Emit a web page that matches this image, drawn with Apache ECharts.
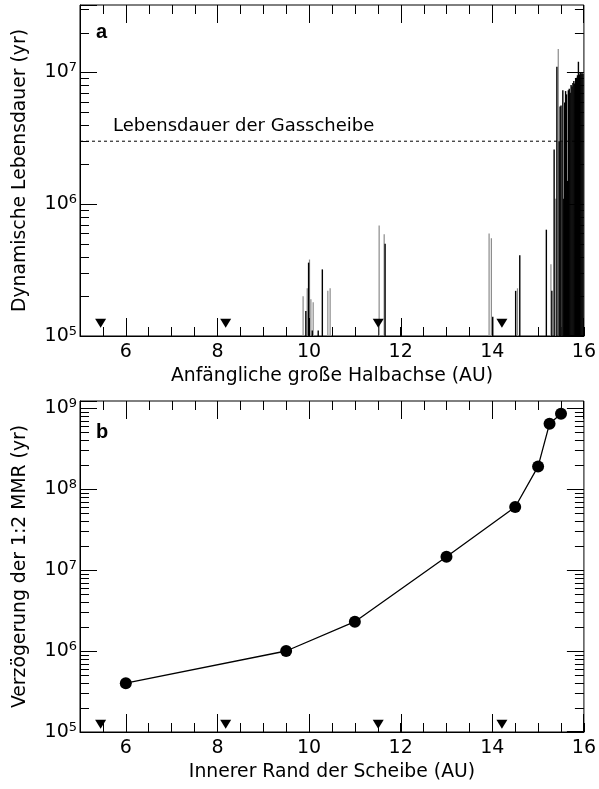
<!DOCTYPE html>
<html>
<head>
<meta charset="utf-8">
<script src="https://cdn.jsdelivr.net/npm/echarts@6/dist/echarts.min.js"></script>
<style>
  html, body { margin: 0; padding: 0; background: #fff; }
  #chart { width: 599px; height: 789px; }
</style>
</head>
<body>
<div id="chart"></div>
<script>
// ---- Panel a: dynamical lifetime vs. initial semimajor axis (AU, yr) ----
const aBlackPos = [9.93, 9.99, 10.07, 10.20, 10.29, 11.66, 14.01, 14.51, 14.60, 15.18, 15.30,
  15.35, 15.41, 15.46, 15.48, 15.50, 15.54, 15.56, 15.58, 15.60, 15.62, 15.64, 15.66, 15.68,
  15.70, 15.72, 15.74, 15.76, 15.78, 15.80, 15.82, 15.84, 15.86, 15.88, 15.90, 15.92, 15.94,
  15.96, 15.98];
const aBlackLife = [1.55e5, 3.6e5, 1.1e5, 1.1e5, 3.2e5, 5.0e5, 1.4e5, 2.2e5, 4.1e5, 6.4e5, 2.2e5,
  2.6e6, 1.1e7, 3.0e6, 5.5e6, 5.6e6, 7.3e6, 1.1e6, 5.9e6, 7.2e6, 6.8e6, 1.5e6, 7.3e6, 7.5e6,
  7.0e6, 8.0e6, 7.8e6, 8.3e6, 8.6e6, 8.2e6, 8.9e6, 9.1e6, 9.5e6, 1.2e7, 9.6e6, 1.0e7, 9.8e6,
  1.0e7, 9.7e6];
const aGrayPos = [9.87, 9.96, 10.01, 10.04, 10.09, 10.41, 10.46, 11.53, 11.64, 13.93, 13.98,
  14.55, 15.28, 15.37, 15.39, 15.44, 15.52];
const aGrayLife = [2.0e5, 2.3e5, 3.8e5, 1.9e5, 1.8e5, 2.2e5, 2.3e5, 6.9e5, 5.9e5, 6.0e5, 5.5e5,
  2.3e5, 3.5e5, 1.1e6, 1.1e6, 1.5e7, 3.0e6];
const gasDiskLifetime = 3e6;

// Resonance locations marked with downward triangles in both panels
const resonancePos = [5.45, 8.18, 11.51, 14.21];
const resonanceLevel = 1.25e5;

// ---- Panel b: delay of the 1:2 MMR vs. inner disk edge ----
const innerEdge = [6, 9.5, 11, 13, 14.5, 15, 15.25, 15.5];
const mmrDelay = [4.0e5, 1.0e6, 2.3e6, 1.46e7, 6.0e7, 1.9e8, 6.4e8, 8.5e8];

// Axis ticks
const xMajorTicks = [6, 8, 10, 12, 14, 16];
const xMinorTicks = [5.5, 6.5, 7, 7.5, 8.5, 9, 9.5, 10.5, 11, 11.5, 12.5, 13, 13.5, 14.5, 15, 15.5];
const aDecades = [5, 6, 7];
const bDecades = [5, 6, 7, 8, 9];
const aLogMax = 7.51;
const bLogMax = 9.086;
const X_MIN = 5, X_MAX = 16, LOG_MIN = 5;

const FONT = 'DejaVu Sans';
const lg = v => Math.log10(v);

function minorLogTicks(lo, hi) {
  const out = [];
  for (let n = Math.floor(lo); n <= Math.ceil(hi); n++) {
    for (let k = 2; k <= 9; k++) {
      const v = n + Math.log10(k);
      if (v > lo && v < hi) out.push(v);
    }
  }
  return out;
}

const nameStyle = { color: '#000', fontFamily: FONT, fontSize: 18.8 };
const black = { color: '#000', width: 1 };

// x axis: built-in inward ticks every 0.5 AU, labels on even values
function xAxisFor(grid, name) {
  return {
    type: 'value', gridIndex: grid, min: X_MIN, max: X_MAX, interval: 0.5, position: 'bottom',
    name: name, nameLocation: 'middle', nameGap: 31, nameTextStyle: nameStyle,
    splitLine: { show: false },
    axisLine: { show: true, onZero: false, lineStyle: black },
    axisTick: { show: true, inside: true, length: 9, lineStyle: black },
    axisLabel: { show: true, margin: 7, customValues: xMajorTicks,
                 color: '#000', fontFamily: FONT, fontSize: 19 }
  };
}

// y axis in log10 units: built-in inward ticks at each decade
function yAxisFor(grid, name, decades, max) {
  return {
    type: 'value', gridIndex: grid, min: LOG_MIN, max: max, interval: 1, position: 'left',
    name: name, nameLocation: 'middle', nameGap: 50, nameRotate: 90, nameTextStyle: nameStyle,
    splitLine: { show: false },
    axisLine: { show: true, onZero: false, lineStyle: black },
    axisTick: { show: true, inside: true, length: 17, lineStyle: black },
    axisLabel: {
      show: true, margin: 3, customValues: decades,
      formatter: v => '{b|10}{s|' + Math.round(v) + '}',
      rich: {
        b: { color: '#000', fontFamily: FONT, fontSize: 19 },
        s: { color: '#000', fontFamily: FONT, fontSize: 13, padding: [0, 0, 9, 0] }
      }
    }
  };
}

// Thin vertical bars rising from the 10^5 baseline
function barRenderer(color, w) {
  return function (params, api) {
    const top = api.coord([api.value(0), api.value(1)]);
    const base = api.coord([api.value(0), LOG_MIN]);
    return {
      type: 'rect',
      shape: { x: top[0] - w / 2, y: top[1], width: w, height: base[1] - top[1] },
      style: { fill: color }
    };
  };
}

// Tick strips on one panel edge; each item sits on that edge in data units
function edgeTickSeries(idx, edge, values, len, yMax) {
  let data;
  if (edge === 'bottom') data = values.map(v => [v, LOG_MIN]);
  else if (edge === 'top') data = values.map(v => [v, yMax]);
  else if (edge === 'left') data = values.map(v => [X_MIN, v]);
  else data = values.map(v => [X_MAX, v]);
  return {
    type: 'custom', xAxisIndex: idx, yAxisIndex: idx, z: 4, clip: true, data: data,
    renderItem: function (params, api) {
      const p = api.coord([api.value(0), api.value(1)]);
      const rightPx = api.coord([X_MAX, LOG_MIN])[0];
      const bottomPx = api.coord([X_MIN, LOG_MIN])[1];
      let shape;
      if (edge === 'bottom' || edge === 'top') {
        const x = Math.min(Math.round(p[0]), Math.round(rightPx) - 1);
        shape = edge === 'bottom'
          ? { x: x, y: p[1] - len, width: 1, height: len }
          : { x: x, y: p[1], width: 1, height: len };
      } else {
        const y = Math.min(Math.round(p[1]), Math.round(bottomPx) - 1);
        shape = edge === 'left'
          ? { x: p[0], y: y, width: len, height: 1 }
          : { x: p[0] - len, y: y, width: len, height: 1 };
      }
      return { type: 'rect', shape: shape, style: { fill: '#000' } };
    }
  };
}

function panelTicks(idx, yMax, decades) {
  const minors = minorLogTicks(LOG_MIN, yMax);
  return [
    edgeTickSeries(idx, 'bottom', xMajorTicks, 18, yMax),
    edgeTickSeries(idx, 'top', xMajorTicks, 18, yMax),
    edgeTickSeries(idx, 'top', xMinorTicks, 9, yMax),
    edgeTickSeries(idx, 'right', decades, 17, yMax),
    edgeTickSeries(idx, 'left', minors, 9, yMax),
    edgeTickSeries(idx, 'right', minors, 9, yMax)
  ];
}

const blackBars = aBlackPos.map((x, i) => [x, lg(aBlackLife[i])]);
const grayBars = aGrayPos.map((x, i) => [x, lg(aGrayLife[i])]);
const triMarks = resonancePos.map(x => [x, lg(resonanceLevel)]);
const curveB = innerEdge.map((x, i) => [x, lg(mmrDelay[i])]);

const chart = echarts.init(document.getElementById('chart'), null, { renderer: 'canvas' });

chart.setOption({
  animation: false,
  backgroundColor: '#fff',
  grid: [
    { left: 80, right: 13, top: 5, height: 331, show: true, borderColor: '#000', borderWidth: 1, backgroundColor: 'transparent' },
    { left: 80, right: 13, top: 401, height: 331, show: true, borderColor: '#000', borderWidth: 1, backgroundColor: 'transparent' }
  ],
  xAxis: [xAxisFor(0, 'Anfängliche große Halbachse (AU)'), xAxisFor(1, 'Innerer Rand der Scheibe (AU)')],
  yAxis: [yAxisFor(0, 'Dynamische Lebensdauer (yr)', aDecades, aLogMax),
          yAxisFor(1, 'Verzögerung der 1:2 MMR (yr)', bDecades, bLogMax)],
  series: [
    {
      type: 'line', xAxisIndex: 0, yAxisIndex: 0, z: 1,
      data: [[X_MIN, lg(gasDiskLifetime)], [X_MAX, lg(gasDiskLifetime)]],
      symbol: 'none', silent: true,
      lineStyle: { color: '#000', width: 1, type: [3, 3] }
    },
    {
      type: 'custom', xAxisIndex: 0, yAxisIndex: 0, z: 3, clip: true,
      renderItem: barRenderer('#8a8a8a', 1.2), data: grayBars
    },
    {
      type: 'custom', xAxisIndex: 0, yAxisIndex: 0, z: 4, clip: true,
      renderItem: barRenderer('#000', 1.4), data: blackBars
    },
    {
      type: 'scatter', xAxisIndex: 0, yAxisIndex: 0, z: 5,
      symbol: 'triangle', symbolRotate: 180, symbolSize: [11, 9],
      itemStyle: { color: '#000', opacity: 1 }, data: triMarks
    },
    {
      type: 'line', xAxisIndex: 1, yAxisIndex: 1, z: 4,
      data: curveB, symbol: 'circle', symbolSize: 12, showSymbol: true,
      lineStyle: { color: '#000', width: 1.3 },
      itemStyle: { color: '#000', borderWidth: 0 }
    },
    {
      type: 'scatter', xAxisIndex: 1, yAxisIndex: 1, z: 5,
      symbol: 'triangle', symbolRotate: 180, symbolSize: [11, 9],
      itemStyle: { color: '#000', opacity: 1 }, data: triMarks
    }
  ].concat(panelTicks(0, aLogMax, aDecades), panelTicks(1, bLogMax, bDecades))
});

// Panel letters and the gas-disk lifetime caption
const capPos = chart.convertToPixel({ xAxisIndex: 0, yAxisIndex: 0 }, [5.72, lg(gasDiskLifetime)]);
chart.setOption({
  graphic: [
    { type: 'text', left: 96, top: 22, style: { text: 'a', fill: '#000', font: 'bold 20px "Liberation Sans"' } },
    { type: 'text', left: 96, top: 422, style: { text: 'b', fill: '#000', font: 'bold 20px "Liberation Sans"' } },
    { type: 'text', x: capPos[0], y: capPos[1] - 6,
      style: { text: 'Lebensdauer der Gasscheibe', fill: '#000', font: '18px "DejaVu Sans"',
               textAlign: 'left', textVerticalAlign: 'bottom' } }
  ]
});
</script>
</body>
</html>
